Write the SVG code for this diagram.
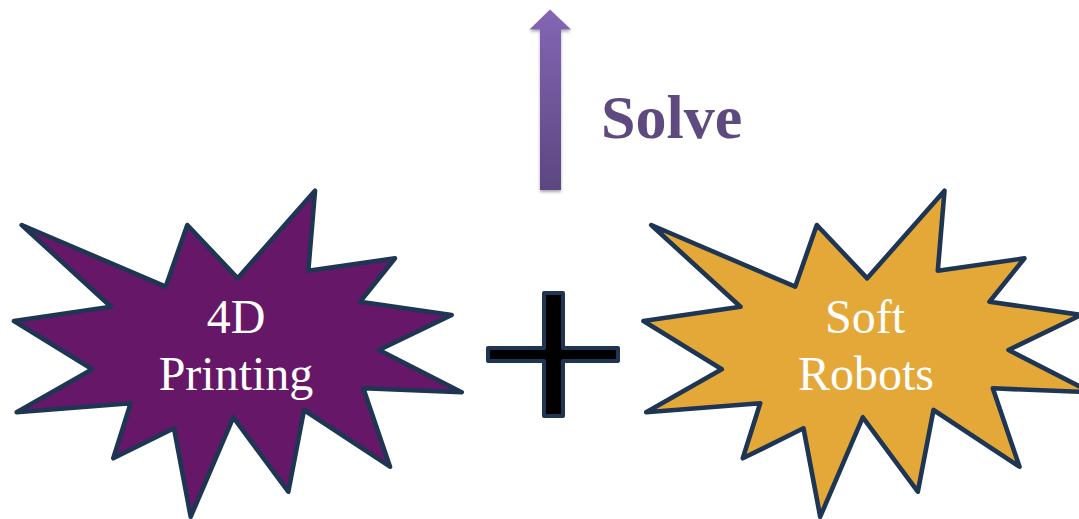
<svg xmlns="http://www.w3.org/2000/svg" width="1079" height="519" viewBox="0 0 1079 519">
<style>
.star{stroke:#1E3653;stroke-width:4.6;stroke-linejoin:round}
.lbl{font-family:"Liberation Serif","Times New Roman",serif;font-size:48px;fill:#FFFFFF;text-anchor:middle}
</style>
<defs>
<linearGradient id="ag" x1="0" y1="0" x2="0" y2="1">
<stop offset="0" stop-color="#8466B5"/>
<stop offset="1" stop-color="#5C4680"/>
</linearGradient>
<filter id="sh" x="-50%" y="-10%" width="200%" height="130%">
<feGaussianBlur in="SourceAlpha" stdDeviation="1.5"/>
<feOffset dx="0" dy="2"/>
<feComponentTransfer><feFuncA type="linear" slope="0.35"/></feComponentTransfer>
<feMerge><feMergeNode/><feMergeNode in="SourceGraphic"/></feMerge>
</filter>
<polygon id="starShape" points="21.7,225 165.7,286.7 187.3,225 237.7,278.3 315,190.7 308.3,270.7 395,258.3 360,301.7 451.7,315 379,350 461.7,392.3 363.3,388.3 390,466.7 304,410 288.3,491.7 233.3,417.3 190.7,516.7 174,428.3 113.3,458.3 130.7,403.3 16.7,412.3 92.3,369.3 14,321 111,306.7"/>
</defs>
<g id="solve-arrow">
<polygon points="550,9.5 571,29.5 561,29.5 561,190 540,190 540,29.5 529.5,29.5" fill="url(#ag)" filter="url(#sh)"/>
<text x="601" y="138" font-family="Liberation Serif,'Times New Roman',serif" font-weight="bold" font-size="62" fill="#5E4A7E">Solve</text>
</g>
<g id="node-4d-printing">
<use href="#starShape" class="star" fill="#671767"/>
<text class="lbl" x="236" y="333">4D</text>
<text class="lbl" x="236" y="390">Printing</text>
</g>
<g id="plus">
<polygon points="544,293 563,293 563,348 618,348 618,361 563,361 563,416 544,416 544,361 488,361 488,348 544,348" fill="#000000" stroke="#1E3653" stroke-width="4" stroke-linejoin="round"/>
</g>
<g id="node-soft-robots">
<use href="#starShape" class="star" fill="#E3A838" transform="translate(629.5,0)"/>
<text class="lbl" x="865" y="333">Soft</text>
<text class="lbl" x="866" y="390">Robots</text>
</g>
<g id="connectors"></g>
</svg>
